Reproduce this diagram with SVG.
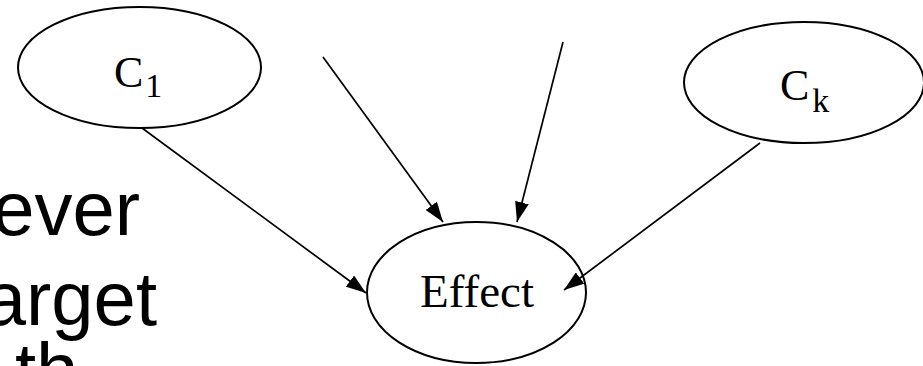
<svg xmlns="http://www.w3.org/2000/svg" width="923" height="366" viewBox="0 0 923 366">
<style>
.node{fill:#fff;stroke:#000;stroke-width:2}
.lbl{font-family:"Liberation Serif","Times New Roman",serif;fill:#000}
.edge{stroke:#000;stroke-width:1.7;fill:none;marker-end:url(#ah)}
.body{font-family:"Liberation Sans",Arial,sans-serif;font-size:76px;fill:#000}
</style>
<defs>
<marker id="ah" markerUnits="userSpaceOnUse" markerWidth="20" markerHeight="14" refX="20" refY="7" orient="auto">
<path d="M0,0 L20,7 L0,14 z" fill="#000"/>
</marker>
</defs>
<g id="bodytext">
<text class="body" x="140" y="235" text-anchor="end">ever</text>
<text class="body" x="157" y="325" text-anchor="end">arget</text>
<text class="body" x="15" y="396">th</text>
</g>
<g id="node-c1">
<ellipse class="node" cx="139.5" cy="67.5" rx="121.5" ry="60.5"/>
<text class="lbl" x="114" y="87" font-size="44">C<tspan font-size="34" dy="10" dx="2">1</tspan></text>
</g>
<g id="node-ck">
<ellipse class="node" cx="804" cy="82.5" rx="120" ry="60.5"/>
<text class="lbl" x="780" y="100" font-size="44">C<tspan font-size="34" dy="12" dx="3">k</tspan></text>
</g>
<g id="node-effect">
<ellipse class="node" cx="476.5" cy="292.5" rx="109.5" ry="70.5"/>
<text class="lbl" x="477" y="307" font-size="47" text-anchor="middle">Effect</text>
</g>
<g id="connectors">
<line class="edge" x1="142" y1="128" x2="366" y2="293"/>
<line class="edge" x1="323" y1="57" x2="443" y2="222"/>
<line class="edge" x1="563" y1="42" x2="517" y2="222"/>
<line class="edge" x1="760" y1="143" x2="564" y2="290"/>
</g>
</svg>
